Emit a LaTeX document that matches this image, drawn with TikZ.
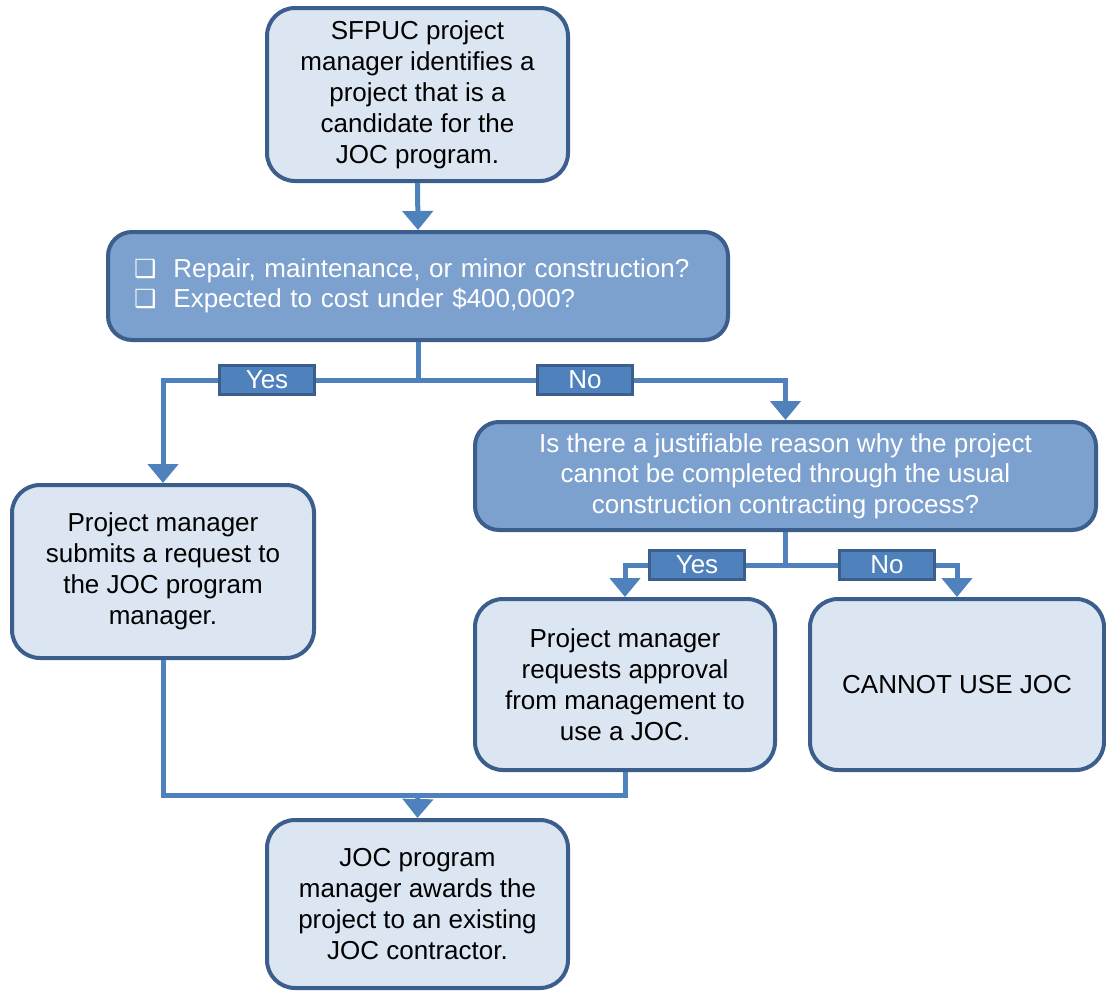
\documentclass[tikz,border=0pt]{standalone}
\usepackage{fontspec}
\setmainfont{Liberation Sans}
\newfontfamily\symfont{DejaVu Sans}
\usetikzlibrary{arrows.meta}
\definecolor{lightfill}{HTML}{DCE6F2}
\definecolor{midfill}{HTML}{7CA1CF}
\definecolor{darkedge}{HTML}{3B5E8C}
\definecolor{linecol}{HTML}{4F81BD}
\definecolor{labfill}{HTML}{4F81BD}
\newcommand{\cbox}{{\symfont\fontsize{25}{20}\selectfont ❑}}
\tikzset{
  lightbox/.style={draw=darkedge, line width=4pt, fill=lightfill, rounded corners=28pt, align=center, font=\fontsize{26}{31}\selectfont, text=black, inner sep=0pt},
  midbox/.style={draw=darkedge, line width=4pt, fill=midfill, rounded corners=24pt, font=\fontsize{26}{30.5}\selectfont, text=white, inner sep=0pt},
  lab/.style={draw=darkedge, line width=3pt, fill=labfill, text=white, font=\fontsize{26}{30}\selectfont, minimum width=95pt, minimum height=29pt, inner sep=0pt},
  conn/.style={draw=linecol, line width=5pt},
  arr/.style={conn, -{Triangle[width=30pt,length=19pt]}},
}
\begin{document}
\begin{tikzpicture}[x=1pt,y=-1pt]
\useasboundingbox (0,0) rectangle (1106,996);
% boxes
\node[lightbox, minimum width=301pt, minimum height=173pt] (top) at (417.5,94.5)
  {SFPUC project\\manager identifies a\\project that is a\\candidate for the\\JOC program.};
\node[midbox, align=left, text width=568pt, inner xsep=26pt, minimum height=108pt] (crit) at (418,286)
  {\cbox\hspace{17pt}Repair, maintenance, or minor construction?\\\cbox\hspace{17pt}Expected to cost under \$400,000?};
\node[lightbox, minimum width=302pt, minimum height=173pt] (left) at (163,571.5)
  {Project manager\\submits a request to\\the JOC program\\manager.};
\node[midbox, align=center, minimum width=621pt, minimum height=108pt] (q) at (785.5,476)
  {Is there a justifiable reason why the project\\cannot be completed through the usual\\construction contracting process?};
\node[lightbox, minimum width=300pt, minimum height=171pt] (req) at (625,684.5)
  {Project manager\\requests approval\\from management to\\use a JOC.};
\node[lightbox, minimum width=294pt, minimum height=171pt] (cannot) at (957,684.5)
  {CANNOT USE JOC};
\node[lightbox, minimum width=301pt, minimum height=168pt] (bot) at (417.5,904)
  {JOC program\\manager awards the\\project to an existing\\JOC contractor.};
% junctions
\coordinate (j1) at (418,380);
\coordinate (j2) at (785.5,565);
\coordinate (j3) at (418,795);
% connectors
\draw[arr] (top.south) -- (crit.north);
\draw[conn] (crit.south) -- (j1);
\draw[arr] (j1) -| (left.north);
\draw[arr] (j1) -| (q.north);
\draw[conn] (q.south) -- (j2);
\draw[arr] (j2) -| (req.north);
\draw[arr] (j2) -| (cannot.north);
\draw[conn] (left.south) |- (j3) -| (req.south);
\draw[arr] (j3) -- (bot.north);
% labels
\node[lab] (yes1) at (267,380) {Yes};
\node[lab] (no1) at (585,380) {No};
\node[lab] (yes2) at (697,565) {Yes};
\node[lab] (no2) at (887,565) {No};
\end{tikzpicture}
\end{document}
